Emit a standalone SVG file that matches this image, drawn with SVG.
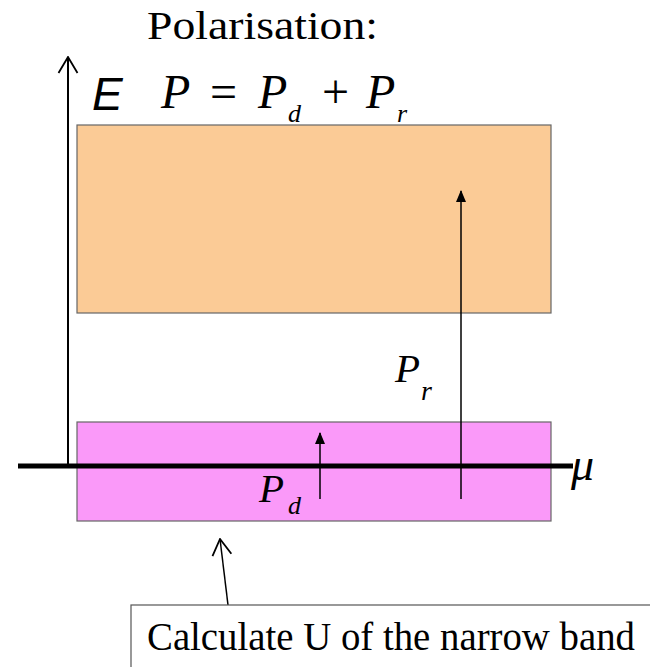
<svg xmlns="http://www.w3.org/2000/svg" width="650" height="667" viewBox="0 0 650 667">
<style>
.serif{font-family:"Liberation Serif","Times New Roman",serif;fill:#000}
.it{font-style:italic}
.band{stroke:#666;stroke-width:1.2}
.ln{stroke:#000;fill:none}
</style>
<defs>
<marker id="solid" viewBox="0 0 12 10" refX="11" refY="5" markerWidth="12" markerHeight="10" markerUnits="userSpaceOnUse" orient="auto">
<path d="M0,0 L12,5 L0,10 z" fill="#000"/>
</marker>
<marker id="open" viewBox="0 0 18 22" refX="17" refY="11" markerWidth="18" markerHeight="22" markerUnits="userSpaceOnUse" orient="auto">
<path d="M1,1.5 L17,11 L1,20.5" fill="none" stroke="#000" stroke-width="1.8"/>
</marker>
</defs>
<rect width="650" height="667" fill="#fff"/>
<text class="serif" x="147" y="39" font-size="41" textLength="231" lengthAdjust="spacingAndGlyphs">Polarisation:</text>
<g id="upper-band"><rect class="band" x="77" y="125" width="474" height="188" fill="#FBCB96"/></g>
<g id="lower-band"><rect class="band" x="77" y="422" width="474" height="99" fill="#FA99F9"/></g>
<g id="connectors">
<line class="ln" x1="68" y1="467" x2="68" y2="57" stroke-width="2" marker-end="url(#open)"/>
<line class="ln" x1="18" y1="466" x2="573" y2="466" stroke-width="5"/>
<line class="ln" x1="461" y1="499" x2="461" y2="191" stroke-width="1.5" marker-end="url(#solid)"/>
<line class="ln" x1="320" y1="499" x2="320" y2="433" stroke-width="1.5" marker-end="url(#solid)"/>
<line class="ln" x1="228" y1="605" x2="220" y2="539" stroke-width="1.5" marker-end="url(#open)"/>
</g>
<g id="labels">
<text x="92" y="110" font-family="Liberation Sans,Arial,sans-serif" font-style="italic" font-size="46">E</text>
<text class="serif it" x="161" y="108" font-size="48">P</text>
<text class="serif" x="210" y="108" font-size="48">=</text>
<text class="serif it" x="258" y="108" font-size="48">P</text>
<text class="serif it" x="288" y="122" font-size="26">d</text>
<text class="serif" x="322" y="108" font-size="48">+</text>
<text class="serif it" x="366" y="108" font-size="48">P</text>
<text class="serif it" x="397" y="122" font-size="26">r</text>
<text class="serif it" x="395" y="382" font-size="41">P</text>
<text class="serif it" x="421" y="400" font-size="28">r</text>
<text class="serif it" x="259" y="502" font-size="41">P</text>
<text class="serif it" x="288" y="514" font-size="26">d</text>
<text class="serif it" x="571" y="480" font-size="46">μ</text>
</g>
<g id="note">
<rect x="131" y="605" width="530" height="70" fill="#fff" stroke="#555" stroke-width="1.2"/>
<text class="serif" x="147" y="650" font-size="40" textLength="488" lengthAdjust="spacingAndGlyphs">Calculate U of the narrow band</text>
</g>
</svg>
